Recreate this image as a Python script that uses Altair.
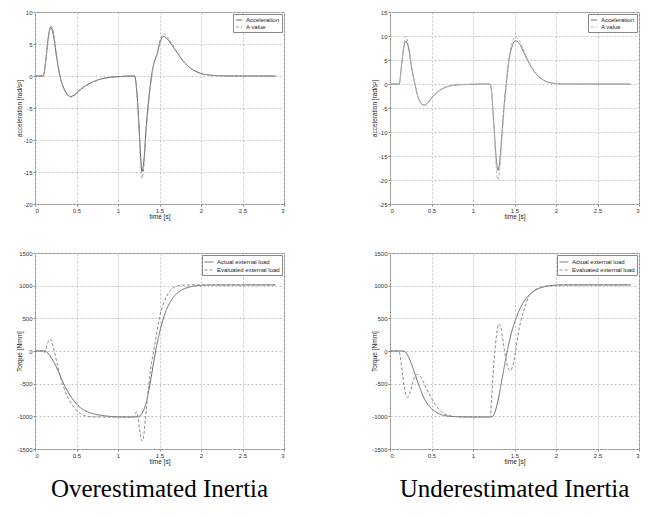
import altair as alt
import pandas as pd

# ---------------- data ----------------
# top-left: Overestimated inertia, acceleration
tl_t = [0, 0.1, 0.13, 0.16, 0.19, 0.22, 0.26, 0.3, 0.35, 0.4, 0.43, 0.47, 0.52, 0.6, 0.7, 0.8, 0.9, 1.0, 1.1, 1.2,
        1.22, 1.25, 1.27, 1.29, 1.31, 1.34, 1.38, 1.41, 1.44, 1.47, 1.5, 1.55, 1.6, 1.65, 1.7, 1.78, 1.85, 1.9, 2.0,
        2.1, 2.2, 2.4, 2.6, 2.9]
tl_acc = [0, 0, 2.5, 6.0, 7.6, 6.5, 3.0, 0, -2.0, -3.0, -3.2, -3.0, -2.4, -1.6, -0.9, -0.45, -0.2, -0.1, -0.03, 0,
          -1.5, -7, -12, -14.9, -13.5, -8, -2.5, 0.5, 2.3, 3.3, 5.0, 6.2, 5.7, 4.8, 3.9, 2.4, 1.5, 1.0, 0.4,
          0.15, 0.05, 0.01, 0, 0]
tl_aval = [0, 0, 2.3, 6.0, 7.9, 6.9, 3.3, 0.2, -2.1, -3.1, -3.3, -3.1, -2.5, -1.7, -0.95, -0.5, -0.22, -0.1, -0.03, 0,
           -1.6, -7.5, -13, -16.0, -14.3, -8.5, -2.8, 0.4, 2.4, 3.5, 5.3, 6.6, 6.0, 5.0, 4.0, 2.5, 1.5, 1.0, 0.4,
           0.15, 0.05, 0.01, 0, 0]

# top-right: Underestimated inertia, acceleration
tr_t = [0, 0.11, 0.14, 0.17, 0.19, 0.22, 0.26, 0.3, 0.34, 0.38, 0.41, 0.45, 0.5, 0.55, 0.6, 0.7, 0.8, 0.9, 1.0, 1.1,
        1.2, 1.22, 1.25, 1.28, 1.3, 1.32, 1.35, 1.38, 1.4, 1.43, 1.47, 1.51, 1.55, 1.6, 1.65, 1.7, 1.75, 1.8, 1.85,
        1.9, 2.0, 2.1, 2.3, 2.9]
tr_acc = [0, 0, 4, 8, 9.0, 7.8, 3.5, 0, -2.8, -4.1, -4.4, -4.0, -2.9, -2.0, -1.3, -0.5, -0.2, -0.1, -0.05, 0,
          0, -1, -8, -15.5, -18, -16.5, -10, -3.5, 0, 4.5, 7.8, 9.0, 8.6, 7.0, 5.2, 3.6, 2.3, 1.4, 0.8,
          0.4, 0.1, 0.02, 0, 0]
tr_aval = [0, 0, 4.2, 8.6, 9.9, 8.4, 3.7, 0, -2.9, -4.2, -4.5, -4.1, -3.0, -2.05, -1.35, -0.5, -0.2, -0.1, -0.05, 0,
           0, -1.1, -9, -17.3, -20, -18.2, -11, -3.8, 0, 5, 8.6, 9.8, 9.3, 7.5, 5.5, 3.8, 2.4, 1.45, 0.8,
           0.4, 0.1, 0.02, 0, 0]

# bottom-left: Overestimated inertia, torque
bl_act_t = [0, 0.12, 0.16, 0.2, 0.24, 0.28, 0.32, 0.36, 0.4, 0.45, 0.5, 0.55, 0.6, 0.7, 0.8, 0.9, 1.0, 1.2, 1.25,
            1.28, 1.31, 1.34, 1.37, 1.4, 1.43, 1.46, 1.5, 1.54, 1.58, 1.62, 1.66, 1.7, 1.75, 1.8, 1.85, 1.9, 2.0,
            2.1, 2.9]
bl_act = [0, 0, -40, -110, -200, -310, -430, -540, -630, -730, -810, -870, -910, -960, -985, -1000, -1008, -1010,
          -1005, -970, -900, -790, -610, -400, -170, 40, 280, 470, 620, 730, 810, 870, 920, 955, 975, 990, 1005,
          1010, 1012]
bl_eva_t = [0, 0.08, 0.1, 0.11, 0.12, 0.14, 0.16, 0.18, 0.2, 0.22, 0.25, 0.28, 0.31, 0.35, 0.4, 0.45, 0.5, 0.55,
            0.6, 0.65, 0.8, 1.0, 1.15, 1.2, 1.22, 1.24, 1.26, 1.29, 1.31, 1.33, 1.36, 1.39, 1.43, 1.47, 1.5, 1.54,
            1.58, 1.62, 1.66, 1.7, 1.75, 1.8, 2.0, 2.9]
bl_eva = [0, 0, -10, -30, -10, 60, 150, 180, 150, 60, -100, -260, -420, -570, -720, -830, -910, -960,
          -990, -1005, -1010, -1012, -1012, -1005, -930, -1000, -1200, -1380, -1300, -1050, -650, -300, 0, 300, 520,
          700, 820, 910, 960, 990, 1005, 1010, 1012, 1012]

# bottom-right: Underestimated inertia, torque
br_act_t = [0, 0.15, 0.18, 0.21, 0.25, 0.29, 0.33, 0.37, 0.41, 0.45, 0.5, 0.55, 0.6, 0.65, 0.7, 0.8, 1.0, 1.2, 1.23,
            1.26, 1.29, 1.32, 1.35, 1.38, 1.41, 1.44, 1.47, 1.51, 1.55, 1.6, 1.65, 1.7, 1.75, 1.8, 1.85, 1.9, 2.0,
            2.1, 2.9]
br_act = [0, 0, -10, -60, -170, -310, -460, -600, -720, -810, -880, -930, -965, -985, -997, -1005, -1010, -1010,
          -1005, -950, -820, -640, -430, -220, -20, 160, 310, 470, 600, 730, 820, 885, 930, 960, 980, 995, 1008,
          1012, 1012]
br_eva_t = [0, 0.1, 0.12, 0.15, 0.18, 0.21, 0.24, 0.27, 0.3, 0.33, 0.36, 0.4, 0.45, 0.49, 0.53, 0.57, 0.62, 0.66,
            0.7, 0.78, 0.9, 1.0, 1.2, 1.21, 1.23, 1.25, 1.28, 1.31, 1.34, 1.37, 1.4, 1.43, 1.45, 1.48, 1.51, 1.54,
            1.58, 1.62, 1.67, 1.72, 1.78, 1.84, 1.9, 2.0, 2.1, 2.9]
br_eva = [0, 0, -60, -350, -600, -710, -650, -500, -390, -360, -380, -470, -600, -700, -790, -860, -930, -965,
          -985, -1003, -1010, -1012, -1012, -990, -600, -200, 200, 415, 330, 80, -150, -280, -300, -220, -30, 230,
          480, 650, 830, 910, 960, 985, 995, 1005, 1010, 1012]

acc_names = ["Acceleration", "A value"]
load_names = ["Actual external load", "Evaluated external load"]
x_ticks = [0, 0.5, 1, 1.5, 2, 2.5, 3]
acc_ticks_over = [-20, -15, -10, -5, 0, 5, 10]
acc_ticks_under = [-25, -20, -15, -10, -5, 0, 5, 10, 15]
load_ticks = [-1500, -1000, -500, 0, 500, 1000, 1500]
captions = ["Overestimated Inertia", "Underestimated Inertia"]


def frame(pairs):
    rows = []
    for name, ts, vs in pairs:
        for t, v in zip(ts, vs):
            rows.append({"t": t, "v": v, "series": name})
    return pd.DataFrame(rows)


FONT = "Liberation Sans"


def panel(df, names, colors, ydom, yticks, ytitle, h, sym, caption=None):
    legend = alt.Legend(
        title=None, orient="top-right", offset=2, strokeColor="#888", fillColor="white",
        padding=2, labelFontSize=6, labelFont=FONT, labelColor="#222", symbolType="stroke",
        symbolSize=sym, symbolStrokeWidth=1, rowPadding=0, labelLimit=200, labelOffset=3,
        cornerRadius=0,
    )
    xaxis = alt.Axis(
        values=x_ticks, labelExpr="'' + datum.value", grid=True, gridDash=[2, 2], gridColor="#c4c4c4",
        domain=False, ticks=True, tickSize=2, tickColor="#888", labelFontSize=6, labelFont=FONT,
        labelColor="#333", labelPadding=1, title="time [s]", titleFontSize=6.5, titleFont=FONT,
        titleFontWeight="normal", titleColor="#222", titlePadding=1, minExtent=8, maxExtent=8,
    )
    yaxis = alt.Axis(
        values=yticks, labelExpr="'' + datum.value", grid=True, gridDash=[2, 2], gridColor="#c4c4c4",
        domain=False, ticks=True, tickSize=2, tickColor="#888", labelFontSize=6, labelFont=FONT,
        labelColor="#333", labelPadding=1, title=ytitle, titleFontSize=6.5, titleFont=FONT,
        titleFontWeight="normal", titleColor="#222", titlePadding=2, minExtent=11, maxExtent=11,
    )
    ch = alt.Chart(df).mark_line(strokeWidth=1, interpolate="monotone").encode(
        x=alt.X("t:Q", scale=alt.Scale(domain=[0, 3], nice=False), axis=xaxis),
        y=alt.Y("v:Q", scale=alt.Scale(domain=ydom, nice=False), axis=yaxis),
        color=alt.Color("series:N", scale=alt.Scale(domain=names, range=colors), legend=legend),
        strokeDash=alt.StrokeDash("series:N", scale=alt.Scale(domain=names, range=[[1, 0], [3, 2]]),
                                  legend=legend),
        order=alt.Order("t:Q"),
    )
    props = dict(width=249, height=h)
    if caption:
        props["title"] = alt.TitleParams(
            caption, orient="bottom", fontSize=25, font="Liberation Serif", fontWeight="normal",
            color="black", offset=12, frame="group", anchor="middle")
    return ch.properties(**props)


tl = panel(frame([(acc_names[0], tl_t, tl_acc), (acc_names[1], tl_t, tl_aval)]), acc_names,
           ["#5a5a5a", "#9a9a9a"], [-20, 10], acc_ticks_over, "acceleration [rad/s²]", 192, 40)
tr = panel(frame([(acc_names[0], tr_t, tr_acc), (acc_names[1], tr_t, tr_aval)]), acc_names,
           ["#707070", "#b8b8b8"], [-25, 15], acc_ticks_under, "acceleration [rad/s²]", 192, 40)
bl = panel(frame([(load_names[0], bl_act_t, bl_act), (load_names[1], bl_eva_t, bl_eva)]), load_names,
           ["#6a6a6a", "#8a8a8a"], [-1500, 1500], load_ticks, "Torque [Nmm]", 196, 80, captions[0])
br = panel(frame([(load_names[0], br_act_t, br_act), (load_names[1], br_eva_t, br_eva)]), load_names,
           ["#6a6a6a", "#8a8a8a"], [-1500, 1500], load_ticks, "Torque [Nmm]", 196, 80, captions[1])

indep = dict(color="independent", strokeDash="independent")
row1 = alt.hconcat(tl, tr, spacing=85).resolve_scale(**indep).resolve_legend(**indep)
row2 = alt.hconcat(bl, br, spacing=85).resolve_scale(**indep).resolve_legend(**indep)

chart = alt.vconcat(row1, row2, spacing=29).resolve_scale(**indep).resolve_legend(**indep).properties(
    padding={"left": 7, "top": 0, "right": 0, "bottom": 0},
    background="white",
).configure_view(stroke="#8a8a8a", strokeWidth=1)

chart.save("out.html", embed_options={"renderer": "svg", "actions": False})
